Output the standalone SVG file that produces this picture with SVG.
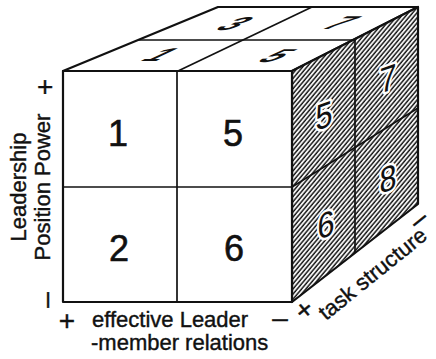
<svg xmlns="http://www.w3.org/2000/svg" width="436" height="359" viewBox="0 0 436 359">
<defs>
<pattern id="hatch" width="3.3" height="10" patternUnits="userSpaceOnUse" patternTransform="rotate(40)">
<rect width="3.3" height="10" fill="#fff"/>
<line x1="1" y1="0" x2="1" y2="10" stroke="#111" stroke-width="1.5"/>
</pattern>
</defs>
<style>
.face{fill:#fff;stroke:#111;stroke-width:2.2;stroke-linejoin:round}
.hat{fill:url(#hatch);stroke:#111;stroke-width:2.2;stroke-linejoin:round}
.div{stroke:#111;stroke-width:1.7;fill:none}
.num{font-family:"Liberation Sans",Arial,sans-serif;font-size:36px;fill:#111;stroke:#111;stroke-width:0.6;text-anchor:middle}
.rnum{font-family:"Liberation Sans",Arial,sans-serif;font-size:36px;fill:#111;text-anchor:middle;stroke:#fff;stroke-width:5;paint-order:stroke;stroke-linejoin:round}
.tnum{font-family:"Liberation Sans",Arial,sans-serif;font-size:30px;font-weight:bold;fill:#111;text-anchor:middle}
.lab{font-family:"Liberation Sans",Arial,sans-serif;font-size:22px;fill:#111;stroke:#111;stroke-width:0.4}
.sig{font-family:"Liberation Sans",Arial,sans-serif;font-size:28px;fill:#111;stroke:#111;stroke-width:0.4;text-anchor:middle}
</style>
<g id="cube-faces">
<polygon class="face" points="63,71 292,71 418,7 218,7"/>
<polygon class="hat" points="292,71 418,7 418,204 292,302"/>
<rect class="face" x="63" y="71" width="229" height="231"/>
</g>
<g id="connectors">
<line class="div" x1="138" y1="40" x2="355" y2="40"/>
<line class="div" x1="178" y1="71" x2="312" y2="7"/>
<line class="div" x1="177" y1="71" x2="177" y2="302"/>
<line class="div" x1="63" y1="187" x2="292" y2="187"/>
<line class="div" x1="355" y1="40" x2="355" y2="253"/>
<line class="div" x1="292" y1="187" x2="418" y2="108"/>
</g>
<g id="front-1"><text class="num" x="118" y="146">1</text></g>
<g id="front-5"><text class="num" x="233" y="146">5</text></g>
<g id="front-2"><text class="num" x="119" y="261">2</text></g>
<g id="front-6"><text class="num" x="234" y="261">6</text></g>
<g id="top-3"><text class="tnum" transform="matrix(1.1,0,-1.3,0.62,222,30)">3</text></g>
<g id="top-7"><text class="tnum" transform="matrix(1.1,0,-1.3,0.62,328,29)">7</text></g>
<g id="top-1"><text class="tnum" transform="matrix(1.1,0,-1.3,0.62,148,61)">1</text></g>
<g id="top-5"><text class="tnum" transform="matrix(1.1,0,-1.3,0.62,264,62)">5</text></g>
<g id="right-5"><text class="rnum" transform="translate(324,128) matrix(0.85,-0.3,0,1,0,0)">5</text></g>
<g id="right-6"><text class="rnum" transform="translate(326,237) matrix(0.85,-0.3,0,1,0,0)">6</text></g>
<g id="right-7"><text class="rnum" transform="translate(388,91) matrix(0.85,-0.3,0,1,0,0)">7</text></g>
<g id="right-8"><text class="rnum" transform="translate(388,191) matrix(0.85,-0.3,0,1,0,0)">8</text></g>
<g id="axis-power">
<text class="lab" text-anchor="middle" transform="translate(26,187) rotate(-90)">Leadership</text>
<text class="lab" text-anchor="middle" transform="translate(50,187) rotate(-90)">Position Power</text>
<text class="sig" transform="translate(54,87) rotate(-90)">+</text>
<text class="sig" transform="translate(55,300) rotate(-90)">–</text>
</g>
<g id="axis-relations">
<text class="sig" x="67" y="330">+</text>
<text class="lab" x="92" y="327">effective Leader</text>
<text class="sig" x="280" y="327">–</text>
<text class="lab" x="91" y="350">-member relations</text>
</g>
<g id="axis-task">
<text class="sig" transform="translate(310,317) rotate(-39)">+</text>
<text class="lab" transform="translate(326,321) rotate(-39)">task structure</text>
<text class="sig" transform="translate(424,226) rotate(-39)">–</text>
</g>
</svg>
